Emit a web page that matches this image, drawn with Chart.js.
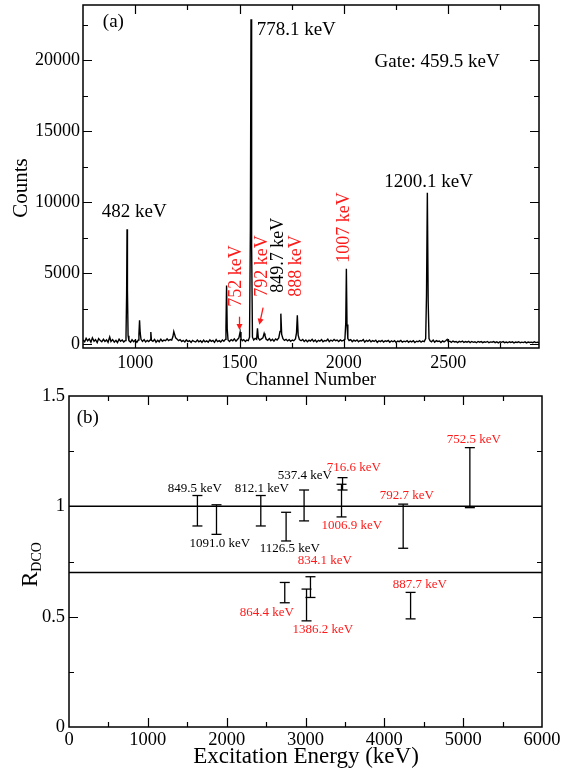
<!DOCTYPE html>
<html lang="en">
<head>
<meta charset="UTF-8">
<title>Gated spectrum and R_DCO</title>
<style>
body { margin: 0; background: #fff; }
canvas { display: block; position: absolute; left: 0; }
#spectrum { top: 0; }
#dco { top: 370px; }
</style>
</head>
<body>
<canvas id="spectrum" width="561" height="390"></canvas>
<canvas id="dco" width="561" height="403"></canvas>
<script src="https://cdn.jsdelivr.net/npm/chart.js@4.4.1/dist/chart.umd.min.js"></script>
<script>
// (a) spectrum gated on 459.5 keV
const channels = [750,758,765,772,780,788,795,803,810,818,825,833,840,848,855,863,870,878,884,892,900,908,915,923,930,938,945,952,956,959,961,963,966,970,978,985,993,
  1000,1008,1015,1018,1021,1024,1028,1035,1043,1050,1058,1065,1072,1075,1078,1085,1093,1100,1108,1115,1123,1130,1138,1145,1153,1160,1168,1175,1181,1185,1189,1194,
  1200,1208,1215,1223,1230,1238,1245,1253,1260,1268,1275,1283,1290,1298,1305,1313,1320,1328,1335,1343,1350,1358,1365,1373,1380,1388,1395,1403,1410,1418,1425,1432,1435,1438,1441,1445,
  1452,1460,1468,1475,1483,1490,1497,1503,1507,1513,1520,1528,1535,1542,1548,1552,1555,1558,1562,1568,1575,1582,1586,1590,1597,1605,1612,1618,1622,1628,1635,1643,1650,1658,1665,1673,1680,1688,1694,1698,1702,1708,
  1715,1723,1730,1738,1745,1753,1760,1768,1773,1777,1781,1787,1795,1803,1810,1818,1825,1833,1840,1848,1855,1863,1870,1878,1885,1893,1900,1908,1915,1923,1930,1938,1945,1953,1960,1968,1975,1983,1990,1998,
  2005,2009,2012,2015,2019,2025,2033,2040,2048,2055,2063,2070,2078,2085,2093,2100,2108,2115,2123,2130,2138,2145,2153,2160,2168,2175,2183,2190,2198,2205,2213,2220,2228,2235,2243,2250,2258,2265,2273,2280,2288,2295,
  2303,2310,2318,2325,2333,2340,2348,2355,2363,2370,2378,2385,2392,2396,2400,2404,2408,2413,2420,2428,2435,2443,2450,2458,2465,2473,2480,2488,2495,2500,2508,2515,2523,2530,2538,2545,2553,2560,2568,2575,2583,2590,2598,
  2605,2613,2620,2628,2635,2643,2650,2658,2665,2673,2680,2688,2695,2703,2710,2718,2725,2733,2740,2748,2755,2763,2770,2778,2785,2793,2800,2808,2815,2823,2830,2838,2845,2853,2860,2868,2875,2883,2890,2898,2905,2913,2920,2928,2935];
const counts = [300,180,420,250,380,150,460,220,330,120,400,260,180,350,200,310,140,520,200,330,160,280,120,360,210,300,170,260,500,3500,8100,3800,600,260,150,320,180,
  280,140,300,700,1700,800,350,200,330,170,280,200,300,870,280,210,340,150,290,180,360,220,300,250,380,260,340,300,550,900,700,450,
  380,260,330,200,280,170,310,190,260,140,280,200,160,300,180,250,130,290,170,240,150,310,200,270,140,330,190,260,170,300,210,350,1200,4150,1100,300,
  200,330,250,380,220,340,450,870,400,250,330,200,300,260,500,8000,22900,7000,500,300,420,350,1130,450,300,380,450,770,600,350,280,400,250,350,220,380,300,450,900,2160,700,400,
  280,350,240,330,210,300,250,380,800,2040,650,330,250,340,200,310,180,290,230,350,200,300,170,280,220,330,180,270,230,360,190,300,220,340,250,300,190,310,240,280,
  350,1500,5330,1400,400,270,330,190,290,220,310,180,270,230,330,160,280,210,300,170,260,200,290,140,250,190,280,160,240,200,270,150,250,180,260,130,230,190,270,150,220,180,
  260,140,230,170,250,130,220,180,260,150,230,190,400,3500,10680,3000,400,250,180,300,150,260,200,230,130,240,170,250,350,180,220,140,230,170,200,120,210,160,230,130,190,150,210,
  120,200,140,180,110,200,150,190,120,180,140,200,110,170,150,190,120,170,100,180,140,190,120,160,110,180,130,170,100,160,130,180,110,150,120,170,100,160,130,150,110,170,120,150,100];
const specXTicks = [1000, 1500, 2000, 2500];
const specXMinor = [1250, 1750, 2250, 2750];
const specYTicks = [0, 5000, 10000, 15000, 20000];
const specYMinor = [2500, 7500, 12500, 17500, 22500];

// (b) R_DCO against excitation energy
const dcoGamma = ['849.5 keV', '1091.0 keV', '812.1 keV', '1126.5 keV', '537.4 keV', '716.6 keV', '1006.9 keV', '792.7 keV', '752.5 keV', '864.4 keV', '834.1 keV', '1386.2 keV', '887.7 keV'];
const dcoEnergy = [1629, 1871, 2433, 2754, 2982, 3470, 3457, 4239, 5085, 2737, 3063, 3013, 4333];
const dcoValue = [0.980, 0.940, 0.980, 0.908, 1.004, 1.102, 1.026, 0.910, 1.130, 0.609, 0.634, 0.553, 0.550];
const dcoError = [0.069, 0.067, 0.069, 0.065, 0.070, 0.028, 0.074, 0.100, 0.136, 0.046, 0.047, 0.072, 0.060];
const dcoNew = [false, false, false, false, false, true, true, true, true, true, true, true, true];
const dcoReference = [1.0, 0.7];
const dcoXTicks = [0, 1000, 2000, 3000, 4000, 5000, 6000];
const dcoXMinor = [500, 1500, 2500, 3500, 4500, 5500];
const dcoYTicks = [0, 0.5, 1, 1.5];
const dcoYMinor = [0.25, 0.75, 1.25];

const serif = '"Liberation Serif", "Times New Roman", serif';
const RED = '#ff1a1a';

// where the annotations sit, in data units
const specNotes = [
  { text: '(a)', x: 845, y: 22700 },
  { text: '778.1 keV', x: 1582, y: 22150 },
  { text: 'Gate: 459.5 keV', x: 2147, y: 19900 },
  { text: '1200.1 keV', x: 2194, y: 11450 },
  { text: '482 keV', x: 840, y: 9340 }
];
const specUpright = [
  { text: '752 keV', x: 1486, y: 2650, color: RED },
  { text: '792 keV', x: 1610, y: 3350, color: RED },
  { text: '849.7 keV', x: 1687, y: 3630, color: '#000' },
  { text: '888 keV', x: 1773, y: 3350, color: RED },
  { text: '1007 keV', x: 2003, y: 5750, color: RED }
];
const specArrows = [[1500, 1944, 1500, 1000], [1613, 2577, 1595, 1380]];
const dcoLabelAt = [[1595, 1.082], [1912, 0.832], [2445, 1.082], [2800, 0.810], [2991, 1.138], [3612, 1.177], [3587, 0.911],
  [4285, 1.047], [5136, 1.301], [2508, 0.520], [3245, 0.754], [3219, 0.442], [4450, 0.646]];

function drawFrame(chart, minorX, minorY) {
  const { ctx, chartArea: a, scales: { x, y } } = chart;
  ctx.save();
  ctx.strokeStyle = '#000';
  ctx.lineWidth = 1.2;
  ctx.beginPath();
  const markX = (vals, len) => vals.forEach(v => {
    const p = Math.round(x.getPixelForValue(v)) + 0.5;
    if (p <= a.left + 1 || p >= a.right - 1) return;
    ctx.moveTo(p, a.bottom); ctx.lineTo(p, a.bottom - len);
    ctx.moveTo(p, a.top); ctx.lineTo(p, a.top + len);
  });
  const markY = (vals, len) => vals.forEach(v => {
    const p = Math.round(y.getPixelForValue(v)) + 0.5;
    if (p <= a.top + 1 || p >= a.bottom - 1) return;
    ctx.moveTo(a.left, p); ctx.lineTo(a.left + len, p);
    ctx.moveTo(a.right, p); ctx.lineTo(a.right - len, p);
  });
  markX(x.ticks.map(t => t.value), 9);
  markX(minorX, 5);
  markY(y.ticks.map(t => t.value), 9);
  markY(minorY, 5);
  ctx.stroke();
  ctx.lineWidth = 1.5;
  ctx.strokeRect(a.left, a.top, a.right - a.left, a.bottom - a.top);
  ctx.restore();
}

function text(ctx, s, px, py, font, color, align) {
  ctx.font = font;
  ctx.fillStyle = color || '#000';
  ctx.textAlign = align || 'left';
  ctx.textBaseline = 'middle';
  ctx.fillText(s, px, py);
}

function fixedBox(w, h) {
  return scale => {
    if (w) scale.width = w;
    if (h) scale.height = h;
    scale.paddingLeft = scale.paddingRight = scale.paddingTop = scale.paddingBottom = 0;
  };
}

const tickFont = { family: serif, size: 18 };

new Chart(document.getElementById('spectrum'), {
  type: 'scatter',
  data: {
    datasets: [{
      data: channels.map((c, i) => ({ x: c, y: counts[i] })),
      showLine: true, borderColor: '#000', borderWidth: 1.4, pointRadius: 0, tension: 0
    }]
  },
  options: {
    responsive: false, animation: false, devicePixelRatio: 1,
    layout: { padding: { top: 5, right: 22, left: 0, bottom: 0 } },
    plugins: { legend: { display: false }, tooltip: { enabled: false } },
    scales: {
      x: {
        type: 'linear', min: 750, max: 2935,
        grid: { display: false, drawTicks: false }, border: { display: false },
        afterBuildTicks: s => { s.ticks = specXTicks.map(v => ({ value: v })); },
        afterFit: fixedBox(0, 42),
        ticks: { font: tickFont, color: '#000', padding: 4, maxRotation: 0, callback: v => String(v) }
      },
      y: {
        min: -260, max: 23900,
        grid: { display: false, drawTicks: false }, border: { display: false },
        afterBuildTicks: s => { s.ticks = specYTicks.map(v => ({ value: v })); },
        afterFit: fixedBox(83, 0),
        ticks: { font: tickFont, color: '#000', padding: 3, callback: v => String(v) }
      }
    }
  },
  plugins: [{
    id: 'specDeco',
    afterDraw(chart) {
      const { ctx, scales: { x, y } } = chart;
      drawFrame(chart, specXMinor, specYMinor);
      ctx.save();
      specNotes.forEach(n => text(ctx, n.text, x.getPixelForValue(n.x), y.getPixelForValue(n.y), '19px ' + serif));
      specUpright.forEach(n => {
        ctx.save();
        ctx.translate(x.getPixelForValue(n.x), y.getPixelForValue(n.y));
        ctx.rotate(-Math.PI / 2);
        text(ctx, n.text, 0, 0, '18px ' + serif, n.color);
        ctx.restore();
      });
      ctx.strokeStyle = RED; ctx.fillStyle = RED; ctx.lineWidth = 1.3;
      specArrows.forEach(([x0, y0, x1, y1]) => {
        const ax = x.getPixelForValue(x0), ay = y.getPixelForValue(y0);
        const bx = x.getPixelForValue(x1), by = y.getPixelForValue(y1);
        const ang = Math.atan2(by - ay, bx - ax);
        ctx.beginPath(); ctx.moveTo(ax, ay); ctx.lineTo(bx - 4 * Math.cos(ang), by - 4 * Math.sin(ang)); ctx.stroke();
        ctx.beginPath();
        ctx.moveTo(bx, by);
        ctx.lineTo(bx - 6 * Math.cos(ang) + 3 * Math.sin(ang), by - 6 * Math.sin(ang) - 3 * Math.cos(ang));
        ctx.lineTo(bx - 6 * Math.cos(ang) - 3 * Math.sin(ang), by - 6 * Math.sin(ang) + 3 * Math.cos(ang));
        ctx.closePath(); ctx.fill();
      });
      text(ctx, 'Channel Number', 311, 380, '19px ' + serif, '#000', 'center');
      ctx.translate(21, 188);
      ctx.rotate(-Math.PI / 2);
      text(ctx, 'Counts', 0, 0, '21px ' + serif, '#000', 'center');
      ctx.restore();
    }
  }]
});

const errorPoints = [];
dcoEnergy.forEach((e, i) => {
  errorPoints.push({ x: e, y: dcoValue[i] - dcoError[i] }, { x: e, y: dcoValue[i] + dcoError[i] }, { x: e, y: null });
});

new Chart(document.getElementById('dco'), {
  type: 'scatter',
  data: {
    datasets: [
      ...dcoReference.map(r => ({
        data: [{ x: 0, y: r }, { x: 6000, y: r }],
        showLine: true, borderColor: '#000', borderWidth: 1.5, pointRadius: 0
      })),
      {
        data: errorPoints, showLine: true, spanGaps: false,
        borderColor: '#000', borderWidth: 1.3,
        pointStyle: 'line', pointRadius: 5, pointBorderWidth: 1.3, pointBorderColor: '#000'
      }
    ]
  },
  options: {
    responsive: false, animation: false, devicePixelRatio: 1,
    layout: { padding: { top: 26, right: 19, left: 0, bottom: 0 } },
    plugins: { legend: { display: false }, tooltip: { enabled: false } },
    scales: {
      x: {
        type: 'linear', min: 0, max: 6000,
        grid: { display: false, drawTicks: false }, border: { display: false },
        afterBuildTicks: s => { s.ticks = dcoXTicks.map(v => ({ value: v })); },
        afterFit: fixedBox(0, 46),
        ticks: { font: { family: serif, size: 18.5 }, color: '#000', padding: 2, maxRotation: 0, callback: v => String(v) }
      },
      y: {
        min: 0, max: 1.5,
        grid: { display: false, drawTicks: false }, border: { display: false },
        afterBuildTicks: s => { s.ticks = dcoYTicks.map(v => ({ value: v })); },
        afterFit: fixedBox(69, 0),
        ticks: { font: { family: serif, size: 18.5 }, color: '#000', padding: 4, callback: v => String(v) }
      }
    }
  },
  plugins: [{
    id: 'dcoDeco',
    afterDraw(chart) {
      const { ctx, scales: { x, y } } = chart;
      drawFrame(chart, dcoXMinor, dcoYMinor);
      ctx.save();
      text(ctx, '(b)', x.getPixelForValue(98), y.getPixelForValue(1.401), '19px ' + serif);
      dcoGamma.forEach((g, i) => {
        const [e, r] = dcoLabelAt[i];
        text(ctx, g, x.getPixelForValue(e), y.getPixelForValue(r), '13px ' + serif, dcoNew[i] ? RED : '#000', 'center');
      });
      text(ctx, 'Excitation Energy (keV)', 306, 387, '23px ' + serif, '#000', 'center');
      ctx.translate(37, 217);
      ctx.rotate(-Math.PI / 2);
      ctx.textBaseline = 'alphabetic';
      ctx.textAlign = 'left';
      ctx.fillStyle = '#000';
      ctx.font = '23px ' + serif;
      ctx.fillText('R', 0, 0);
      const w = ctx.measureText('R').width;
      ctx.font = '14px ' + serif;
      ctx.fillText('DCO', w, 4);
      ctx.restore();
    }
  }]
});
</script>
</body>
</html>
